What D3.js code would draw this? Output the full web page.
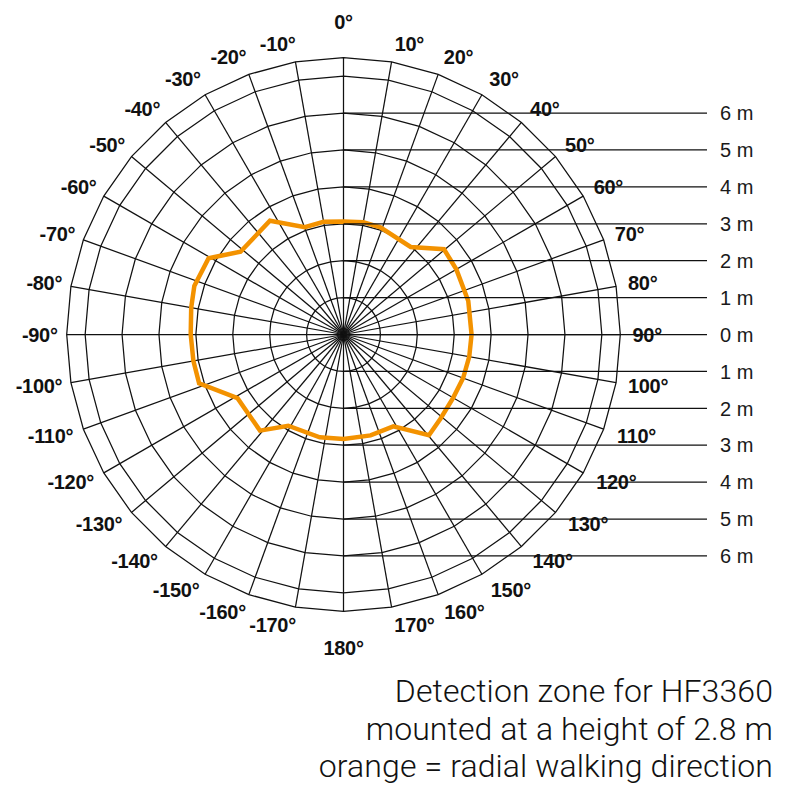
<!DOCTYPE html>
<html>
<head>
<meta charset="utf-8">
<script src="https://cdn.jsdelivr.net/npm/d3@7"></script>
<style>
  html, body { margin: 0; padding: 0; background: #fff; }
  svg { display: block; }
</style>
</head>
<body>
<svg id="chart" width="800" height="800"></svg>
<script>
// ---------- data ----------
const angleLabels = [0, 10, 20, 30, 40, 50, 60, 70, 80, 90, 100, 110, 120, 130, 140, 150, 160, 170, 180,
                     -170, -160, -150, -140, -130, -120, -110, -100, -90, -80, -70, -60, -50, -40, -30, -20, -10];
const spokeAngles = [0, 10, 20, 30, 40, 50, 60, 70, 80, 90, 100, 110, 120, 130, 140, 150, 160, 170,
                     180, 190, 200, 210, 220, 230, 240, 250, 260, 270, 280, 290, 300, 310, 320, 330, 340, 350];
const ringDistances = [1, 2, 3, 4, 5, 6, 7, 7.5];
const distanceTicks = [-6, -5, -4, -3, -2, -1, 0, 1, 2, 3, 4, 5, 6];   // metres, negative = above centre
// orange = radial walking direction (angle in degrees, distance in metres)
const zoneAngles    = [0, 10, 19, 37.5, 49.7, 60, 75, 90, 100, 110, 120, 131, 139.7, 151.5, 165, 180,
                       -167, -148.8, -139, -121, -108.7, -100, -90, -80, -72, -60.5, -51.2, -32.9, -19.8, -10];
const zoneDistances = [3.06, 3.09, 3.07, 2.99, 3.57, 3.53, 3.5, 3.47, 3.46, 3.45, 3.43, 3.48, 3.58, 2.83, 2.83, 2.83,
                       2.86, 2.89, 3.45, 3.35, 4.13, 4.13, 4.14, 4.19, 4.25, 4.2, 3.58, 3.67, 3.09, 3.1];
const titleLines = ["Detection zone for HF3360", "mounted at a height of 2.8 m", "orange = radial walking direction"];

// ---------- layout ----------
const cx = 343.5, cy = 334.5;
const r = d3.scaleLinear().domain([0, 7.5]).range([0, 276.8]);
const yScale = d3.scaleLinear().domain([-7.5, 7.5]).range([cy - 276.8, cy + 276.8]);
const rad = a => a * Math.PI / 180;

const svg = d3.select("#chart");
const g = svg.append("g").attr("transform", `translate(${cx},${cy})`);

// rings (polygons through the spokes)
const ringLine = d3.lineRadial()
  .angle(a => rad(a))
  .curve(d3.curveLinearClosed);
g.append("g").selectAll("path")
  .data(ringDistances)
  .join("path")
  .attr("d", d => ringLine.radius(() => r(d))(spokeAngles))
  .attr("fill", "none")
  .attr("stroke", "#111")
  .attr("stroke-width", 1.25);

// spokes
g.append("g").selectAll("line")
  .data(spokeAngles)
  .join("line")
  .attr("x1", 0).attr("y1", 0)
  .attr("x2", a => r(7.5) * Math.sin(rad(a)))
  .attr("y2", a => -r(7.5) * Math.cos(rad(a)))
  .attr("stroke", "#111")
  .attr("stroke-width", 1.25);

// horizontal distance lines from the vertical axis to the right
const xEnd = 707;
svg.append("g").selectAll("line")
  .data(distanceTicks)
  .join("line")
  .attr("x1", cx).attr("x2", xEnd)
  .attr("y1", d => yScale(d)).attr("y2", d => yScale(d))
  .attr("stroke", "#111")
  .attr("stroke-width", 1.25);

svg.append("g").selectAll("text")
  .data(distanceTicks)
  .join("text")
  .attr("x", 720)
  .attr("y", d => yScale(d))
  .attr("dy", "0.36em")
  .attr("font-family", "'Liberation Sans', Arial, sans-serif")
  .attr("font-size", 20)
  .attr("fill", "#1a1a1a")
  .text(d => Math.abs(d) + " m");

// orange zone
const zone = zoneAngles.map((a, i) => ({ a, d: zoneDistances[i] }));
g.append("path")
  .datum(zone)
  .attr("d", d3.lineRadial().angle(p => rad(p.a)).radius(p => r(p.d)).curve(d3.curveLinearClosed))
  .attr("fill", "none")
  .attr("stroke", "#f39200")
  .attr("stroke-width", 4.5)
  .attr("stroke-linejoin", "miter");

// angle labels
function labelPos(a) {
  const t = rad(a), s = Math.sin(t), c = Math.cos(t);
  if (Math.abs(s) < 1e-6) return [cx, cy - 313 * c];
  const h = c >= 0 ? 3.7 + 10.5 * c * c * c : 7 + 12 * (-c);
  return [cx + 300 * s + Math.sign(s) * h, cy - 295 * c];
}
svg.append("g").selectAll("text")
  .data(angleLabels)
  .join("text")
  .attr("x", a => labelPos(a)[0])
  .attr("y", a => labelPos(a)[1])
  .attr("dy", "0.36em")
  .attr("text-anchor", "middle")
  .attr("font-family", "'Liberation Sans', Arial, sans-serif")
  .attr("font-weight", "bold")
  .attr("font-size", 20)
  .attr("letter-spacing", -0.3)
  .attr("fill", "#111")
  .text(a => a + "°");

// title
svg.append("g").selectAll("text")
  .data(titleLines)
  .join("text")
  .attr("x", 773)
  .attr("y", (d, i) => 701.7 + i * 37.8)
  .attr("text-anchor", "end")
  .attr("font-family", "Roboto, 'Liberation Sans', sans-serif")
  .attr("font-weight", 300)
  .attr("font-size", 32)
  .attr("letter-spacing", 0.1)
  .attr("fill", "#111")
  .text(d => d);
</script>
</body>
</html>
